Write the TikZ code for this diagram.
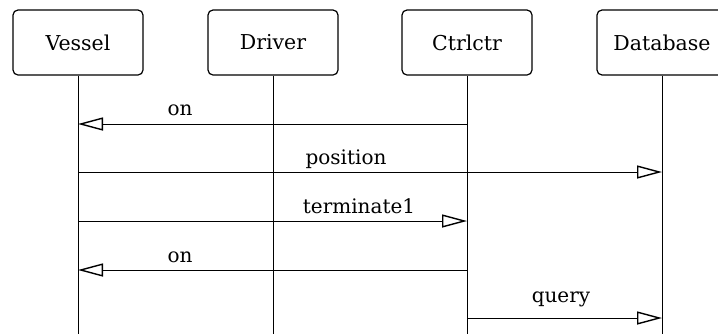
\documentclass[tikz,border=0pt]{standalone}
\usepackage{fontspec}
\setmainfont{DejaVu Serif}
\usetikzlibrary{arrows.meta}
\begin{document}
\begin{tikzpicture}[x=1pt,y=-1pt,
  obj/.style={draw, line width=1.2pt, rounded corners=5pt, minimum width=130pt, minimum height=65pt, inner sep=0pt, font=\fontsize{20.5}{24}\selectfont},
  life/.style={line width=1pt},
  msg/.style={line width=1pt, -{Triangle[open, length=25pt, width=13pt, line width=1.4pt]}},
  lbl/.style={anchor=base, inner sep=0pt, font=\fontsize{20}{24}\selectfont}]
\useasboundingbox (0,0) rectangle (718,333);
\clip (0,0) rectangle (718,333);
\fill[white] (0,0) rectangle (718,333);
\node[obj] (vessel) at (78,42.5) {Vessel};
\node[obj] (driver) at (273,42.5) {Driver};
\node[obj] (ctrl) at (467,42.5) {Ctrlctr};
\node[obj] (db) at (662,42.5) {Database};
\coordinate (ve) at (78,340);
\coordinate (de) at (273,340);
\coordinate (ce) at (467,340);
\coordinate (dbe) at (662,340);
\draw[life] (vessel.south) -- (ve);
\draw[life] (driver.south) -- (de);
\draw[life] (ctrl.south) -- (ce);
\draw[life] (db.south) -- (dbe);
% message end points
\coordinate (m1a) at (467,124); \coordinate (m1b) at (78,124);
\coordinate (m2a) at (78,172);  \coordinate (m2b) at (662,172);
\coordinate (m3a) at (78,221);  \coordinate (m3b) at (467,221);
\coordinate (m4a) at (467,270); \coordinate (m4b) at (78,270);
\coordinate (m5a) at (467,318); \coordinate (m5b) at (662,318);
\draw[msg] (m1a) -- (m1b);
\draw[msg] (m2a) -- (m2b);
\draw[msg] (m3a) -- (m3b);
\draw[msg] (m4a) -- (m4b);
\draw[msg] (m5a) -- (m5b);
\node[lbl] (l1) at (180,115) {on};
\node[lbl] (l2) at (346,164) {position};
\node[lbl] (l3) at (359,213.5) {terminate1};
\node[lbl] (l4) at (180,262) {on};
\node[lbl] (l5) at (561,302.5) {query};
\end{tikzpicture}
\end{document}
